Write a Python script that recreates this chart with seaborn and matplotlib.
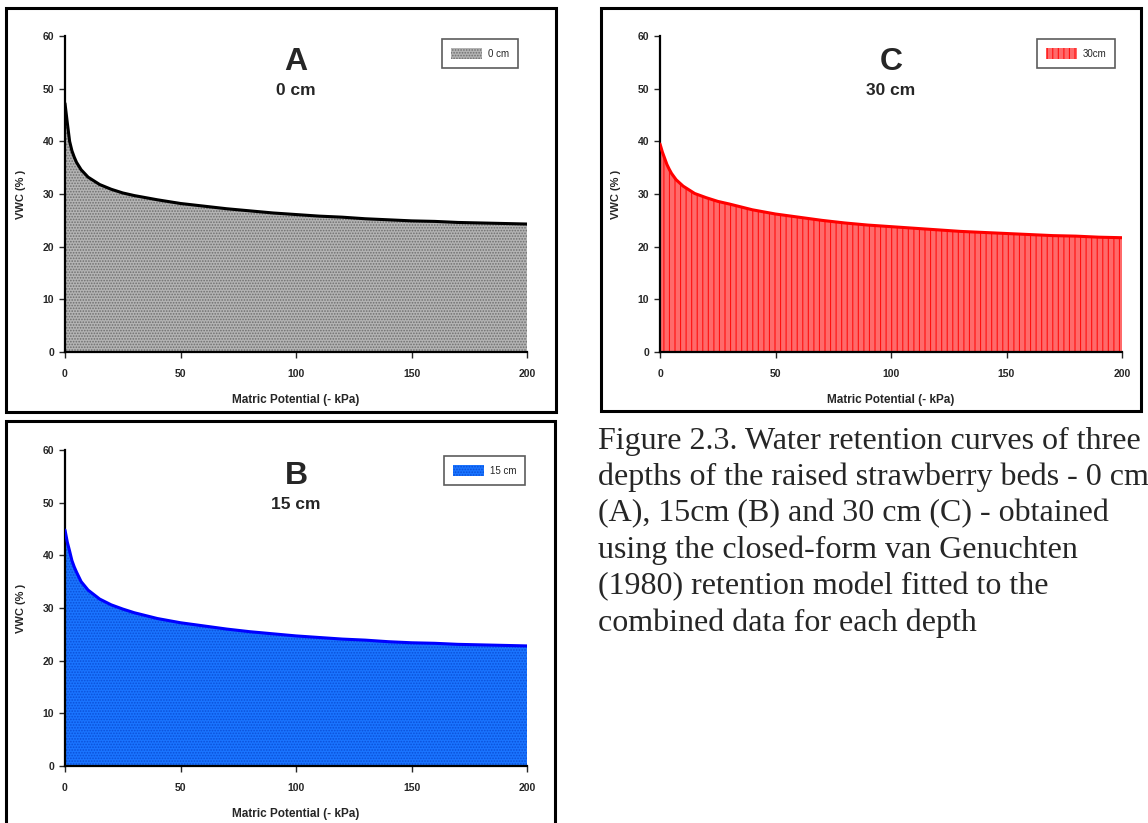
import matplotlib
matplotlib.use("Agg")
import matplotlib.pyplot as plt
from matplotlib.patches import Rectangle
import seaborn as sns
import pandas as pd

# ---- data ----
kpa = [0, 1, 2, 3, 4, 5, 7, 10, 15, 20, 25, 30, 40, 50, 60, 70, 80, 90, 100,
       110, 120, 130, 140, 150, 160, 170, 180, 190, 200]
vwc_0cm = [47.2, 43.5, 40.0, 38.2, 37.0, 36.0, 34.6, 33.2, 31.8, 30.9, 30.2, 29.7,
           28.9, 28.2, 27.7, 27.2, 26.8, 26.4, 26.1, 25.8, 25.6, 25.3, 25.1, 24.9,
           24.8, 24.6, 24.5, 24.4, 24.3]
vwc_15cm = [44.8, 42.5, 40.8, 39.0, 37.8, 36.8, 35.0, 33.4, 31.7, 30.6, 29.8, 29.1,
            28.0, 27.2, 26.6, 26.0, 25.5, 25.1, 24.7, 24.4, 24.1, 23.9, 23.6, 23.4,
            23.3, 23.1, 23.0, 22.9, 22.8]
vwc_30cm = [39.5, 38.0, 36.8, 35.6, 34.7, 33.9, 32.7, 31.5, 30.1, 29.3, 28.6, 28.1,
            27.0, 26.2, 25.6, 25.0, 24.5, 24.1, 23.8, 23.5, 23.2, 22.9, 22.7, 22.5,
            22.3, 22.1, 22.0, 21.8, 21.7]
x_ticks = [0, 50, 100, 150, 200]
y_ticks = [0, 10, 20, 30, 40, 50, 60]
panel_letters = ["A", "B", "C"]
panel_depths = ["0 cm", "15 cm", "30 cm"]
legend_labels = ["0 cm", "15 cm", "30cm"]
caption = ("Figure 2.3. Water retention curves of three\n"
           "depths of the raised strawberry beds - 0 cm\n"
           "(A), 15cm (B) and 30 cm (C) - obtained\n"
           "using the closed-form van Genuchten\n"
           "(1980) retention model fitted to the\n"
           "combined data for each depth")

sns.set_style("ticks")
plt.rcParams["font.family"] = ["Liberation Sans", "DejaVu Sans"]
plt.rcParams["hatch.linewidth"] = 0.8

fig = plt.figure(figsize=(11.48, 8.23), dpi=100)
W, H = 1148, 823

def axes_px(x0, x1, ytop, ybot):
    return fig.add_axes([x0 / W, 1 - ybot / H, (x1 - x0) / W, (ybot - ytop) / H])

def frame(x0, x1, ytop, ybot):
    fig.patches.append(Rectangle((x0 / W, 1 - ybot / H), (x1 - x0) / W, (ybot - ytop) / H,
                                 transform=fig.transFigure, fill=False,
                                 edgecolor="black", linewidth=2.2, zorder=0))

frame(6, 556, 8, 412)
frame(601, 1141, 8, 411)
frame(6, 555, 421, 830)

axA = axes_px(65, 527, 36, 352)
axB = axes_px(65, 527, 450, 766)
axC = axes_px(660, 1122, 36, 352)

specs = [
    (axA, vwc_0cm, "black", "#b4b4b4", "#6e6e6e", "......", 0, (0.991, 1.005)),
    (axB, vwc_15cm, "#0000ff", "#1a74ff", "#0a50d8", "......", 1, (1.006, 0.996)),
    (axC, vwc_30cm, "#ff0000", "#ff6a6a", "#ff1010", "|||", 2, (0.996, 1.005)),
]

for ax, vals, lc, fc, hc, hatch, i, anchor in specs:
    df = pd.DataFrame({"kPa": kpa, "VWC": vals})
    ax.fill_between(df["kPa"], 0, df["VWC"], facecolor=fc, edgecolor=hc, hatch=hatch,
                    linewidth=0, label=legend_labels[i], zorder=1)
    sns.lineplot(data=df, x="kPa", y="VWC", ax=ax, color=lc, linewidth=2.2, zorder=3,
                 legend=False)
    ax.set_xlim(0, 200)
    ax.set_ylim(0, 60)
    ax.set_xticks(x_ticks)
    ax.set_yticks(y_ticks)
    ax.tick_params(axis="both", labelsize=7.5, length=4, width=1, direction="out", pad=4)
    ax.tick_params(axis="x", pad=8)
    for lab in ax.get_xticklabels() + ax.get_yticklabels():
        lab.set_fontweight("bold")
    ax.set_xlabel("Matric Potential (- kPa)", fontsize=8.5, fontweight="bold", labelpad=11)
    ax.set_ylabel("VWC (% )", fontsize=8, fontweight="bold", labelpad=12)
    sns.despine(ax=ax)
    for s in ("left", "bottom"):
        ax.spines[s].set_linewidth(1.6)
        ax.spines[s].set_color("black")
    ax.patch.set_alpha(0)
    ax.text(0.5, 0.918, panel_letters[i], transform=ax.transAxes, ha="center", va="center",
            fontsize=23, fontweight="bold")
    ax.text(0.5, 0.826, panel_depths[i], transform=ax.transAxes, ha="center", va="center",
            fontsize=12.5, fontweight="bold")
    leg = ax.legend(loc="upper right", bbox_to_anchor=anchor, fontsize=7, frameon=True,
                    fancybox=False, handlelength=3.2, handleheight=1.4, borderpad=0.9,
                    handletextpad=0.6)
    leg.get_frame().set_edgecolor("#333333")
    leg.get_frame().set_linewidth(1.2)

fig.text(598 / W, 1 - 427 / H, caption, ha="left", va="top", fontsize=23,
         family=["Liberation Serif", "DejaVu Serif"], linespacing=1.31)

fig.savefig("out.png", dpi=100)
